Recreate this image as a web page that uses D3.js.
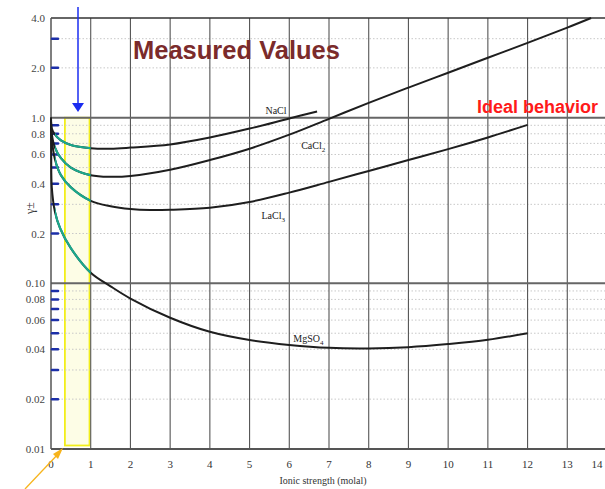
<!DOCTYPE html>
<html lang="en">
<head>
<meta charset="UTF-8">
<title>Activity coefficients</title>
<script src="https://d3js.org/d3.v7.min.js"></script>
<style>
  body { margin: 0; background: #fff; }
  svg { display: block; }
</style>
</head>
<body>
<div id="chart"></div>
<script>

// ionic strength (molal) vs mean activity coefficient
var nacl_x   = [0, 0.02, 0.1, 0.25, 0.5, 1, 1.5, 2, 3, 4, 5, 6, 6.7]
var nacl_y   = [1.0, 0.86, 0.79, 0.73, 0.685, 0.655, 0.65, 0.66, 0.69, 0.76, 0.86, 0.99, 1.09]

var cacl2_x  = [0, 0.02, 0.1, 0.25, 0.5, 1, 1.5, 2, 3, 4, 5, 6, 7, 8, 9, 10, 11, 12, 13, 13.6]
var cacl2_y  = [1.0, 0.8, 0.66, 0.57, 0.5, 0.45, 0.44, 0.445, 0.485, 0.555, 0.65, 0.79, 0.985, 1.23, 1.52, 1.87, 2.3, 2.83, 3.5, 4.0]

var lacl3_x  = [0, 0.02, 0.1, 0.25, 0.5, 1, 1.5, 2, 2.5, 3, 4, 5, 6, 7, 8, 9, 10, 11, 12]
var lacl3_y  = [1.0, 0.75, 0.56, 0.45, 0.38, 0.315, 0.292, 0.281, 0.277, 0.278, 0.286, 0.31, 0.353, 0.41, 0.477, 0.555, 0.646, 0.76, 0.905]

var mgso4_x  = [0, 0.005, 0.02, 0.1, 0.23, 0.5, 1, 1.5, 2, 3, 4, 5, 6, 7, 8, 9, 10, 11, 12]
var mgso4_y  = [1.0, 0.6, 0.38, 0.27, 0.215, 0.163, 0.116, 0.096, 0.081, 0.062, 0.051, 0.0455, 0.0425, 0.0408, 0.0405, 0.0412, 0.043, 0.0456, 0.05]

var x_ticks = [0, 1, 2, 3, 4, 5, 6, 7, 8, 9, 10, 11, 12, 13, 14]
var y_ticks = [4.0, 2.0, 1.0, 0.8, 0.6, 0.4, 0.2, 0.10, 0.08, 0.06, 0.04, 0.02, 0.01]
var y_tick_text = ["4.0", "2.0", "1.0", "0.8", "0.6", "0.4", "0.2", "0.10", "0.08", "0.06", "0.04", "0.02", "0.01"]
var y_minor = [3, 2, 0.9, 0.8, 0.7, 0.6, 0.5, 0.4, 0.3, 0.2, 0.09, 0.08, 0.07, 0.06, 0.05, 0.04, 0.03, 0.02]
var y_solid = [4.0, 1.0, 0.1]

var series = [
  {name: "NaCl",  sub: "",  xs: nacl_x,  ys: nacl_y,  lx: 5.4, ly: 1.06},
  {name: "CaCl",  sub: "2", xs: cacl2_x, ys: cacl2_y, lx: 6.3, ly: 0.65},
  {name: "LaCl",  sub: "3", xs: lacl3_x, ys: lacl3_y, lx: 5.3, ly: 0.243},
  {name: "MgSO",  sub: "4", xs: mgso4_x, ys: mgso4_y, lx: 6.1, ly: 0.0445}
]

var width = 605,
    height = 489

var x = d3.scaleLinear().domain([0, 14]).range([51, 607])
var y = d3.scaleLog().domain([0.01, 4]).range([449, 18])

var svg = d3.select("#chart").append("svg")
  .attr("width", width)
  .attr("height", height)

var serif = "'Liberation Serif', 'DejaVu Serif', serif"
var sans = "'Liberation Sans', Arial, sans-serif"

// highlight box for the dilute range
svg.append("rect")
  .attr("x", x(0.35))
  .attr("y", y(1.0))
  .attr("width", x(0.97) - x(0.35))
  .attr("height", y(0.0105) - y(1.0))
  .attr("fill", "#fdfde6")
  .attr("stroke", "#f2ee1a")
  .attr("stroke-width", 1.8)

// dotted minor grid
svg.selectAll(".minor")
  .data(y_minor)
  .enter().append("line")
  .attr("x1", x(0)).attr("x2", width)
  .attr("y1", function(d) { return y(d) })
  .attr("y2", function(d) { return y(d) })
  .attr("stroke", "#c8c8c8")
  .attr("stroke-width", 1)
  .attr("stroke-dasharray", "1.5,2")

// vertical grid
svg.selectAll(".vgrid")
  .data(x_ticks.slice(1))
  .enter().append("line")
  .attr("x1", function(d) { return x(d) })
  .attr("x2", function(d) { return x(d) })
  .attr("y1", y(4)).attr("y2", y(0.01))
  .attr("stroke", "#555")
  .attr("stroke-width", 1.1)

// solid horizontal lines
svg.selectAll(".hsolid")
  .data(y_solid)
  .enter().append("line")
  .attr("x1", x(0)).attr("x2", width)
  .attr("y1", function(d) { return y(d) })
  .attr("y2", function(d) { return y(d) })
  .attr("stroke", function(d) { return d == 4 ? "#333" : "#666" })
  .attr("stroke-width", function(d) { return d == 4 ? 1.5 : 2 })

// axes frame
svg.append("line")
  .attr("x1", x(0)).attr("x2", x(0))
  .attr("y1", y(4)).attr("y2", y(0.01))
  .attr("stroke", "#555").attr("stroke-width", 1.5)
svg.append("line")
  .attr("x1", x(0)).attr("x2", width)
  .attr("y1", y(0.01)).attr("y2", y(0.01))
  .attr("stroke", "#555").attr("stroke-width", 1.8)

// blue tick marks
svg.selectAll(".bt")
  .data(y_minor)
  .enter().append("line")
  .attr("x1", x(0) + 1).attr("x2", x(0) + 7)
  .attr("y1", function(d) { return y(d) })
  .attr("y2", function(d) { return y(d) })
  .attr("stroke", "#1c2fa8")
  .attr("stroke-width", 2.5)
  .attr("stroke-linecap", "round")

// tick labels
svg.selectAll(".ylab")
  .data(y_ticks)
  .enter().append("text")
  .attr("x", 45)
  .attr("y", function(d) { return y(d) + 4 })
  .attr("text-anchor", "end")
  .style("font-family", serif)
  .style("font-size", "11px")
  .style("fill", "#444")
  .text(function(d, i) { return y_tick_text[i] })

// last label would sit past the window edge, pull it in
svg.selectAll(".xlab")
  .data(x_ticks)
  .enter().append("text")
  .attr("x", function(d) { return d == 14 ? 597 : x(d) })
  .attr("y", 468)
  .attr("text-anchor", "middle")
  .style("font-family", serif)
  .style("font-size", "11px")
  .style("fill", "#333")
  .text(function(d) { return d })

svg.append("text")
  .attr("x", 323).attr("y", 484)
  .attr("text-anchor", "middle")
  .style("font-family", serif)
  .style("font-size", "10px")
  .style("fill", "#333")
  .text("Ionic strength (molal)")

svg.append("text")
  .attr("transform", "translate(34,208) rotate(-90)")
  .attr("text-anchor", "middle")
  .style("font-family", serif)
  .style("font-size", "12px")
  .style("fill", "#333")
  .text("γ±")

// curves
var line = d3.line()
  .x(function(d) { return x(d[0]) })
  .y(function(d) { return y(d[1]) })
  .curve(d3.curveCatmullRom.alpha(0.5))

svg.append("clipPath").attr("id", "dilute")
  .append("rect")
  .attr("x", x(0.1)).attr("y", 0)
  .attr("width", x(1) - x(0.1)).attr("height", height)

series.forEach(function(s) {
  var pts = d3.zip(s.xs, s.ys)
  svg.append("path")
    .attr("d", line(pts))
    .attr("fill", "none")
    .attr("stroke", "#1e1e1e")
    .attr("stroke-width", 2)
  svg.append("path")
    .attr("d", line(pts))
    .attr("fill", "none")
    .attr("stroke", "#1ba88c")
    .attr("stroke-width", 2.2)
    .attr("clip-path", "url(#dilute)")

  var t = svg.append("text")
    .attr("x", x(s.lx)).attr("y", y(s.ly))
    .style("font-family", serif)
    .style("font-size", "10px")
    .style("fill", "#222")
    .text(s.name)
  if (s.sub) {
    t.append("tspan").attr("dy", 3).style("font-size", "7px").text(s.sub)
  }
})

// annotations
svg.append("text")
  .attr("x", 133).attr("y", 59)
  .style("font-family", sans)
  .style("font-weight", "bold")
  .style("font-size", "25.5px")
  .style("fill", "#7b2b2b")
  .text("Measured Values")

svg.append("text")
  .attr("x", 477).attr("y", 113)
  .style("font-family", sans)
  .style("font-weight", "bold")
  .style("font-size", "18px")
  .style("fill", "#ff1a1a")
  .text("Ideal behavior")

// arrows
svg.append("line")
  .attr("x1", 78).attr("x2", 78)
  .attr("y1", 7).attr("y2", 104)
  .attr("stroke", "#1a2cf0").attr("stroke-width", 1.5)
svg.append("path")
  .attr("d", "M72,103 L84,103 L78,112 Z")
  .attr("fill", "#1a2cf0")

svg.append("line")
  .attr("x1", 25).attr("y1", 489)
  .attr("x2", 60).attr("y2", 452)
  .attr("stroke", "#f7b41c").attr("stroke-width", 1.3)
svg.append("path")
  .attr("d", "M63,448 L53,454 L58,459 Z")
  .attr("fill", "#f7b41c")

</script>
</body>
</html>
